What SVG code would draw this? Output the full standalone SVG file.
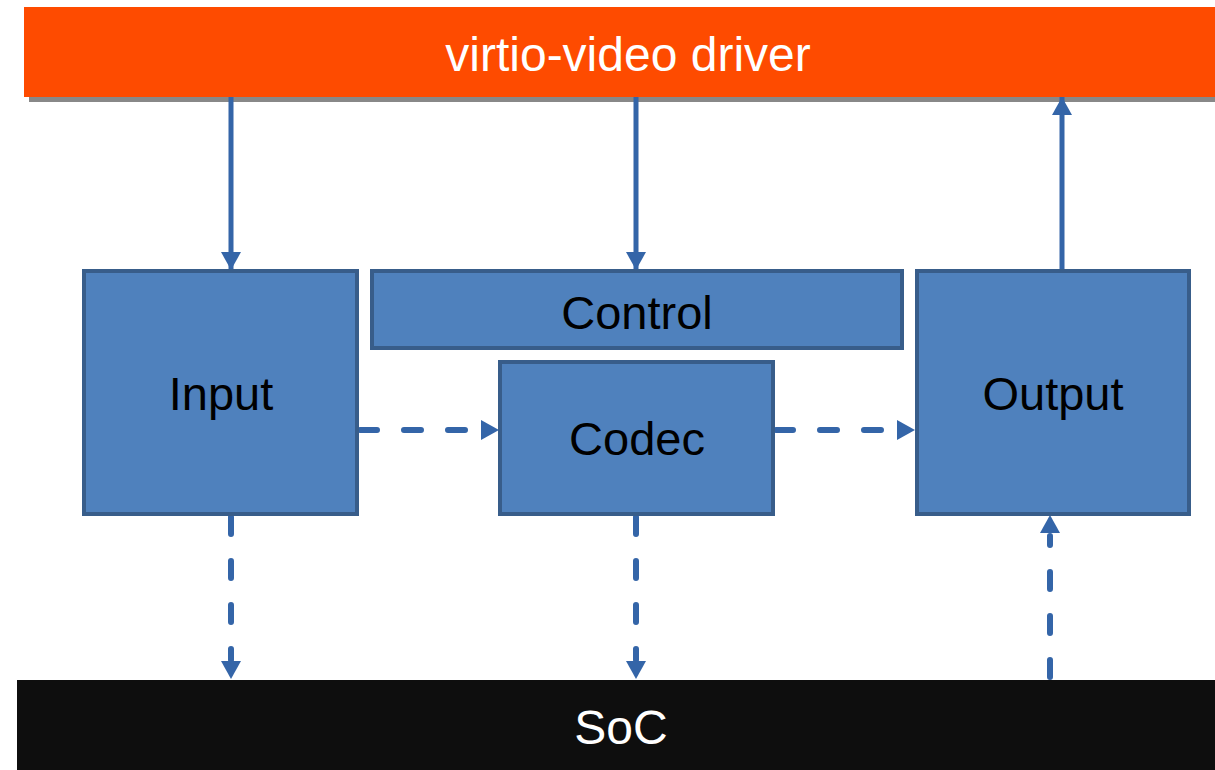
<svg xmlns="http://www.w3.org/2000/svg" width="1215" height="770" viewBox="0 0 1215 770">
<style>
.box{fill:#4f81bd;stroke:#385d8a;stroke-width:4}
.lbl{font-family:"Liberation Sans",Arial,sans-serif;font-size:47px;fill:#000;text-anchor:middle}
.wl{font-family:"Liberation Sans",Arial,sans-serif;font-size:48px;fill:#fff;text-anchor:middle}
.c{stroke:#3465a8;stroke-width:5;fill:none}
.d{stroke:#3465a8;stroke-width:6;fill:none;stroke-dasharray:17 27;stroke-linecap:round}
</style>
<defs>
<marker id="ah" markerUnits="userSpaceOnUse" markerWidth="20" markerHeight="20" viewBox="0 0 20 20" refX="18" refY="10" orient="auto">
<path d="M0,0 L18,10 L0,20 Z" fill="#3465a8"/>
</marker>
</defs>
<rect width="1215" height="770" fill="#fff"/>
<g id="driver">
<rect x="29" y="12" width="1186" height="90" fill="#888"/>
<rect x="24" y="7" width="1191" height="90" fill="#fe4b00"/>
<text class="wl" x="628" y="71">virtio-video driver</text>
</g>
<g id="soc">
<rect x="17" y="680" width="1198" height="90" fill="#0e0e0e"/>
<text class="wl" x="621" y="744">SoC</text>
</g>
<g id="connectors">
<line class="c" x1="231" y1="97" x2="231" y2="270" marker-end="url(#ah)"/>
<line class="c" x1="636" y1="97" x2="636" y2="270" marker-end="url(#ah)"/>
<line class="c" x1="1062" y1="270" x2="1062" y2="97" marker-end="url(#ah)"/>
<path class="d" d="M360,430 H478"/>
<path d="M481,420 L499,430 L481,440 Z" fill="#3465a8"/>
<path class="d" d="M776,430 H895"/>
<path d="M897,420 L915,430 L897,440 Z" fill="#3465a8"/>
<path class="d" d="M231,517 V660"/>
<path d="M221,661 L231,679 L241,661 Z" fill="#3465a8"/>
<path class="d" d="M636,517 V660"/>
<path d="M626,661 L636,679 L646,661 Z" fill="#3465a8"/>
<path class="d" d="M1050,677 V536"/>
<path d="M1040,533 L1050,515 L1060,533 Z" fill="#3465a8"/>
</g>
<g id="input">
<rect class="box" x="84" y="271" width="273" height="243"/>
<text class="lbl" x="221" y="410">Input</text>
</g>
<g id="control">
<rect class="box" x="372" y="271" width="530" height="77"/>
<text class="lbl" x="637" y="329">Control</text>
</g>
<g id="codec">
<rect class="box" x="500" y="362" width="273" height="152"/>
<text class="lbl" x="637" y="455">Codec</text>
</g>
<g id="output">
<rect class="box" x="917" y="271" width="272" height="243"/>
<text class="lbl" x="1053" y="410">Output</text>
</g>
</svg>
